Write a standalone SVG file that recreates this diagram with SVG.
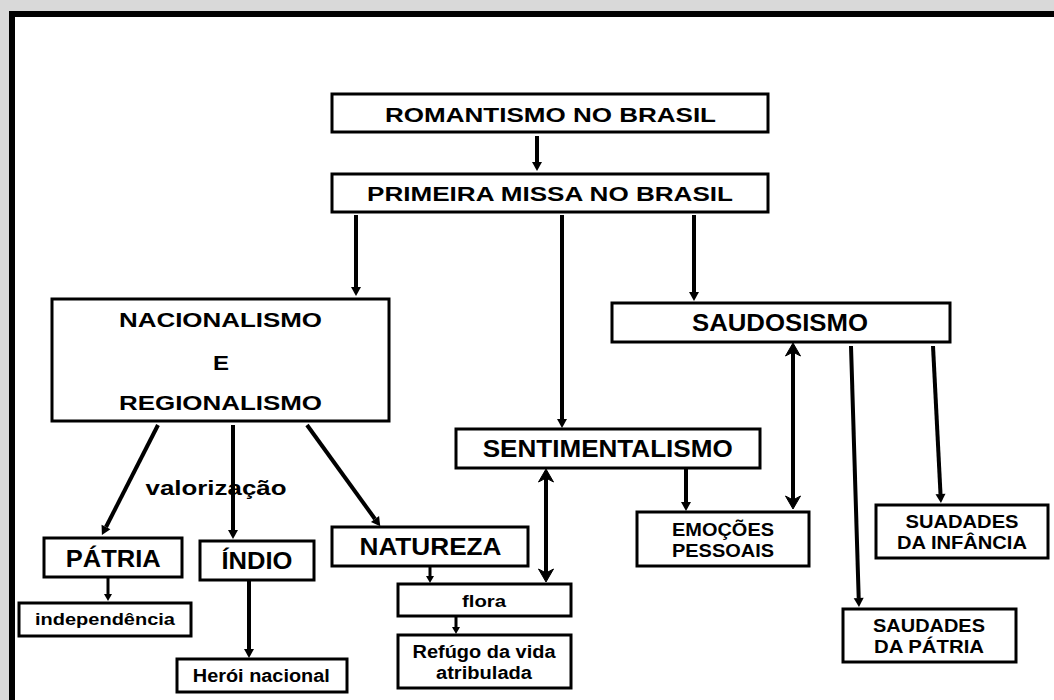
<svg xmlns="http://www.w3.org/2000/svg" width="1054" height="700" viewBox="0 0 1054 700">
<style>
.box{fill:#fff;stroke:#000;stroke-width:3}
.t{font-family:"Liberation Sans",Arial,sans-serif;font-weight:bold;fill:#000;text-anchor:middle}
.c{stroke:#000;stroke-width:4;fill:none}
.cs{stroke:#000;stroke-width:3;fill:none}
</style>
<defs>
<marker id="ah" markerUnits="userSpaceOnUse" markerWidth="12" markerHeight="12" viewBox="0 -6 10 12" refX="0" refY="0" orient="auto">
<path d="M0,-5 L9,0 L0,5 Z" fill="#000"/>
</marker>
<marker id="as" markerUnits="userSpaceOnUse" markerWidth="10" markerHeight="10" viewBox="0 -5 8 10" refX="0" refY="0" orient="auto">
<path d="M0,-4 L7,0 L0,4 Z" fill="#000"/>
</marker>
<marker id="ad" markerUnits="userSpaceOnUse" markerWidth="18" markerHeight="18" viewBox="-5 -9 16 18" refX="0" refY="0" orient="auto-start-reverse">
<path d="M-4,-7.5 L9,0 L-4,7.5 L0,0 Z" fill="#000" stroke="#000" stroke-width="1" stroke-linejoin="round"/>
</marker>
</defs>
<rect x="0" y="0" width="1054" height="700" fill="#d9d9d9"/>
<rect x="12" y="14" width="1050" height="700" fill="#fff" stroke="#000" stroke-width="6"/>

<g id="connectors">
<line class="c" x1="537" y1="136" x2="537" y2="162" marker-end="url(#ah)"/>
<line class="c" x1="356" y1="215" x2="356" y2="287" marker-end="url(#ah)"/>
<line class="c" x1="562" y1="215" x2="562" y2="419" marker-end="url(#ah)"/>
<line class="c" x1="694" y1="215" x2="694" y2="292" marker-end="url(#ah)"/>
<line class="c" x1="158" y1="425" x2="106" y2="527" marker-end="url(#ah)"/>
<line class="c" x1="233" y1="425" x2="233" y2="530" marker-end="url(#ah)"/>
<line class="c" x1="307" y1="425" x2="375" y2="519" marker-end="url(#ah)"/>
<line class="cs" x1="108" y1="577" x2="108" y2="594" marker-end="url(#as)"/>
<line class="c" x1="249" y1="580" x2="249" y2="649" marker-end="url(#ah)"/>
<line class="cs" x1="430" y1="566" x2="430" y2="576" marker-end="url(#as)"/>
<line class="cs" x1="456" y1="617" x2="456" y2="627" marker-end="url(#as)"/>
<line class="c" x1="546" y1="478" x2="546" y2="573" marker-start="url(#ad)" marker-end="url(#ad)"/>
<line class="c" x1="686" y1="468" x2="686" y2="502" marker-end="url(#ah)"/>
<line class="c" x1="793" y1="352" x2="793" y2="500" marker-start="url(#ad)" marker-end="url(#ad)"/>
<line class="c" x1="851" y1="346" x2="858.7" y2="598" marker-end="url(#ah)"/>
<line class="c" x1="933" y1="346" x2="940.5" y2="494" marker-end="url(#ah)"/>
</g>

<text class="t" x="216" y="495" font-size="21" textLength="141" lengthAdjust="spacingAndGlyphs">valorização</text>

<g id="romantismo">
<rect class="box" x="332" y="94" width="436" height="38"/>
<text class="t" x="550.5" y="122" font-size="20.5" textLength="331" lengthAdjust="spacingAndGlyphs">ROMANTISMO NO BRASIL</text>
</g>
<g id="primeira">
<rect class="box" x="332" y="174" width="436" height="38"/>
<text class="t" x="550" y="201" font-size="20.5" textLength="366" lengthAdjust="spacingAndGlyphs">PRIMEIRA MISSA NO BRASIL</text>
</g>
<g id="nacionalismo">
<rect class="box" x="52" y="299" width="337" height="122"/>
<text class="t" x="220.5" y="327" font-size="21" textLength="203" lengthAdjust="spacingAndGlyphs">NACIONALISMO</text>
<text class="t" x="221" y="370" font-size="21" textLength="16" lengthAdjust="spacingAndGlyphs">E</text>
<text class="t" x="220.5" y="410" font-size="21" textLength="203" lengthAdjust="spacingAndGlyphs">REGIONALISMO</text>
</g>
<g id="saudosismo">
<rect class="box" x="612" y="303" width="338" height="39"/>
<text class="t" x="780" y="331" font-size="24" textLength="176" lengthAdjust="spacingAndGlyphs">SAUDOSISMO</text>
</g>
<g id="sentimentalismo">
<rect class="box" x="456" y="429" width="304" height="39"/>
<text class="t" x="607.7" y="456.5" font-size="23" textLength="250" lengthAdjust="spacingAndGlyphs">SENTIMENTALISMO</text>
</g>
<g id="patria">
<rect class="box" x="44" y="538" width="138" height="39"/>
<text class="t" x="113.3" y="566.5" font-size="24" textLength="95" lengthAdjust="spacingAndGlyphs">PÁTRIA</text>
</g>
<g id="indio">
<rect class="box" x="200" y="541" width="114" height="39"/>
<text class="t" x="257" y="568.5" font-size="23" textLength="71" lengthAdjust="spacingAndGlyphs">ÍNDIO</text>
</g>
<g id="natureza">
<rect class="box" x="332" y="527" width="196" height="39"/>
<text class="t" x="430.5" y="555" font-size="23" textLength="142" lengthAdjust="spacingAndGlyphs">NATUREZA</text>
</g>
<g id="independencia">
<rect class="box" x="19" y="603" width="172" height="33"/>
<text class="t" x="105" y="625" font-size="17" textLength="140" lengthAdjust="spacingAndGlyphs">independência</text>
</g>
<g id="heroi">
<rect class="box" x="177" y="659" width="170" height="33"/>
<text class="t" x="261.3" y="681.5" font-size="18" textLength="137" lengthAdjust="spacingAndGlyphs">Herói nacional</text>
</g>
<g id="flora">
<rect class="box" x="398" y="584" width="173" height="32"/>
<text class="t" x="484" y="606.5" font-size="17" textLength="44" lengthAdjust="spacingAndGlyphs">flora</text>
</g>
<g id="refugo">
<rect class="box" x="398" y="635" width="173" height="53"/>
<text class="t" x="484" y="658" font-size="17.5" textLength="143" lengthAdjust="spacingAndGlyphs">Refúgo da vida</text>
<text class="t" x="484" y="679" font-size="17.5" textLength="96" lengthAdjust="spacingAndGlyphs">atribulada</text>
</g>
<g id="emocoes">
<rect class="box" x="637" y="512" width="172" height="54"/>
<text class="t" x="723" y="535.5" font-size="18" textLength="102" lengthAdjust="spacingAndGlyphs">EMOÇÕES</text>
<text class="t" x="723" y="556.5" font-size="18" textLength="102" lengthAdjust="spacingAndGlyphs">PESSOAIS</text>
</g>
<g id="suadades">
<rect class="box" x="876" y="505" width="172" height="53"/>
<text class="t" x="962" y="528" font-size="17.7" textLength="113" lengthAdjust="spacingAndGlyphs">SUADADES</text>
<text class="t" x="962" y="549" font-size="17.7" textLength="130" lengthAdjust="spacingAndGlyphs">DA INFÂNCIA</text>
</g>
<g id="saudades">
<rect class="box" x="843" y="609" width="173" height="53"/>
<text class="t" x="929" y="632" font-size="17.7" textLength="112" lengthAdjust="spacingAndGlyphs">SAUDADES</text>
<text class="t" x="929" y="653" font-size="17.7" textLength="110" lengthAdjust="spacingAndGlyphs">DA PÁTRIA</text>
</g>
</svg>
